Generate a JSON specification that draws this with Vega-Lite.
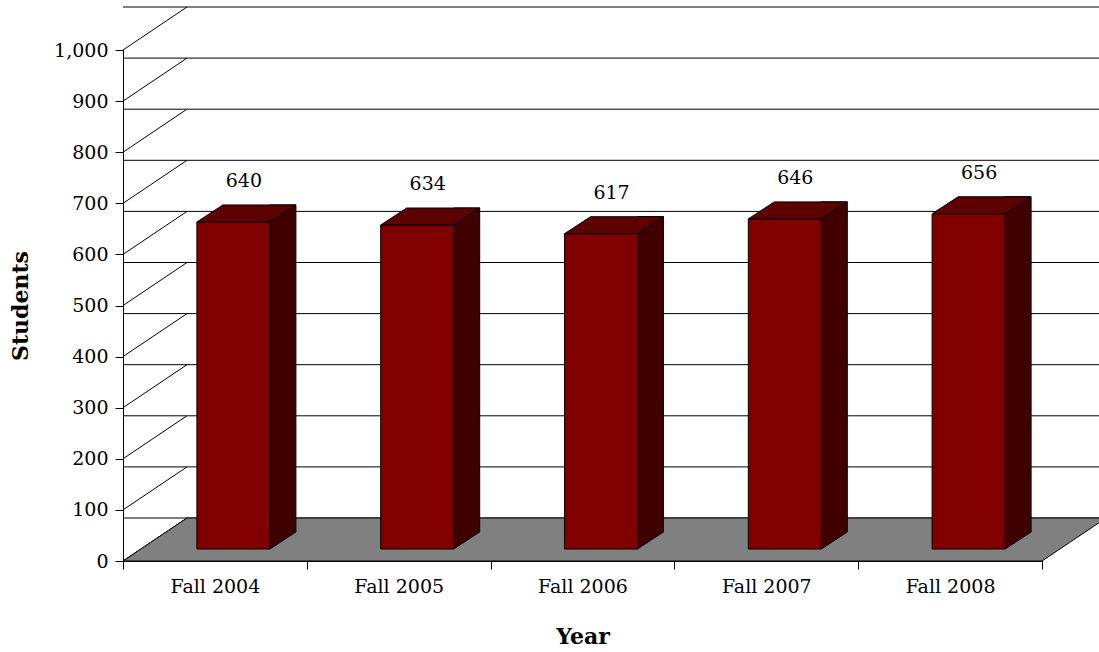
{
  "$schema": "https://vega.github.io/schema/vega-lite/v6.json",
  "width": 919,
  "height": 511,
  "autosize": {"type": "none"},
  "padding": {"left": 123, "top": 50, "right": 57, "bottom": 91},
  "background": "white",
  "datasets": {
    "enrollment": [
      {"year": "Fall 2004", "students": 640},
      {"year": "Fall 2005", "students": 634},
      {"year": "Fall 2006", "students": 617},
      {"year": "Fall 2007", "students": 646},
      {"year": "Fall 2008", "students": 656}
    ],
    "ticks": [
      {"v": 0}, {"v": 100}, {"v": 200}, {"v": 300}, {"v": 400}, {"v": 500},
      {"v": 600}, {"v": 700}, {"v": 800}, {"v": 900}, {"v": 1000}
    ],
    "floor": [{"base": 0}]
  },
  "config": {
    "font": "DejaVu Serif",
    "view": {"stroke": null},
    "axis": {
      "domainColor": "black",
      "tickColor": "black",
      "labelColor": "black",
      "titleColor": "black",
      "grid": false,
      "labelFont": "DejaVu Serif",
      "titleFont": "DejaVu Serif",
      "labelFontSize": 19,
      "titleFontSize": 22,
      "titleFontWeight": "bold",
      "tickSize": 8,
      "domainWidth": 1,
      "tickWidth": 1
    },
    "axisX": {"tickBand": "extent", "labelAngle": 0, "labelPadding": 8, "titlePadding": 30},
    "axisY": {"labelPadding": 7, "titlePadding": 21}
  },
  "layer": [
    {
      "data": {"name": "ticks"},
      "mark": {"type": "rule", "color": "black", "strokeWidth": 1, "xOffset": 64, "x2Offset": 64, "yOffset": -43},
      "encoding": {
        "y": {
          "field": "v", "type": "quantitative",
          "scale": {"domain": [0, 1000], "nice": false},
          "title": "Students",
          "axis": {"values": [0, 100, 200, 300, 400, 500, 600, 700, 800, 900, 1000], "format": ",.0f"}
        }
      }
    },
    {
      "data": {"name": "ticks"},
      "mark": {"type": "point", "shape": "M0,0L64,-43", "size": 4, "filled": false, "stroke": "black", "strokeWidth": 1, "opacity": 1},
      "encoding": {
        "x": {"value": 0},
        "y": {"field": "v", "type": "quantitative", "title": "Students"}
      }
    },
    {
      "data": {"name": "floor"},
      "mark": {"type": "point", "shape": "M0,0L919,0L983,-43L64,-43Z", "size": 4, "filled": true, "fill": "#808080", "stroke": "black", "strokeWidth": 1, "opacity": 1},
      "encoding": {
        "x": {"value": 0},
        "y": {"field": "base", "type": "quantitative", "title": "Students"}
      }
    },
    {
      "data": {"name": "enrollment"},
      "mark": {"type": "bar", "width": 26, "xOffset": 68, "yOffset": -29, "fill": "#400000", "stroke": "black", "strokeWidth": 1},
      "encoding": {
        "x": {"field": "year", "type": "nominal", "title": "Year", "scale": {"type": "band", "paddingInner": 0, "paddingOuter": 0}},
        "y": {"field": "students", "type": "quantitative", "title": "Students"}
      }
    },
    {
      "data": {"name": "enrollment"},
      "mark": {"type": "point", "shape": "M0,0.3L0,-17.7L26.6,-17.7Z", "size": 4, "filled": true, "fill": "#400000", "strokeWidth": 0, "opacity": 1, "xOffset": 55, "yOffset": -12},
      "encoding": {
        "x": {"field": "year", "type": "nominal", "title": "Year"},
        "y": {"datum": 0, "type": "quantitative"}
      }
    },
    {
      "data": {"name": "enrollment"},
      "mark": {"type": "point", "shape": "M0,0L26,-17", "size": 4, "filled": false, "stroke": "black", "strokeWidth": 1, "opacity": 1, "xOffset": 55, "yOffset": -12},
      "encoding": {
        "x": {"field": "year", "type": "nominal", "title": "Year"},
        "y": {"datum": 0, "type": "quantitative"}
      }
    },
    {
      "data": {"name": "enrollment"},
      "mark": {"type": "bar", "width": 73, "xOffset": 18.5, "yOffset": -12, "fill": "#800000", "stroke": "black", "strokeWidth": 1},
      "encoding": {
        "x": {"field": "year", "type": "nominal", "title": "Year"},
        "y": {"field": "students", "type": "quantitative", "title": "Students"}
      }
    },
    {
      "data": {"name": "enrollment"},
      "mark": {"type": "point", "shape": "M-36.5,0L36.5,0L62.5,-17L-10.5,-17Z", "size": 4, "filled": true, "fill": "#5c0000", "stroke": "black", "strokeWidth": 1, "opacity": 1, "xOffset": 18.5, "yOffset": -12},
      "encoding": {
        "x": {"field": "year", "type": "nominal", "title": "Year"},
        "y": {"field": "students", "type": "quantitative", "title": "Students"}
      }
    },
    {
      "data": {"name": "enrollment"},
      "mark": {"type": "text", "font": "DejaVu Serif", "fontSize": 19, "color": "black", "align": "center", "baseline": "middle", "xOffset": 29, "yOffset": -53},
      "encoding": {
        "x": {"field": "year", "type": "nominal", "title": "Year"},
        "y": {"field": "students", "type": "quantitative", "title": "Students"},
        "text": {"field": "students", "type": "quantitative"}
      }
    }
  ]
}
